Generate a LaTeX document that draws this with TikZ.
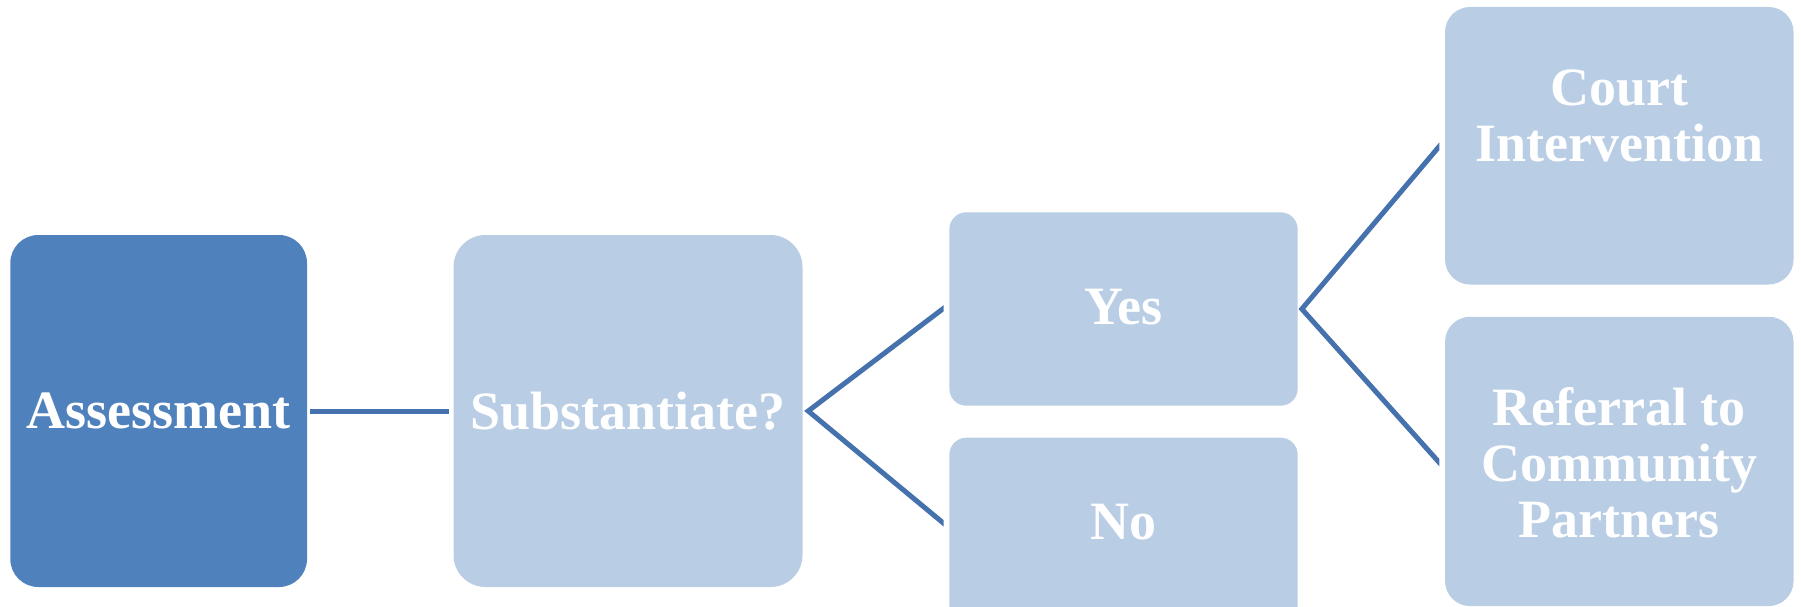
\documentclass[tikz,border=0pt]{standalone}
\usepackage{fontspec}
\setmainfont{Liberation Serif}
\usetikzlibrary{calc}
\definecolor{darkbox}{HTML}{4F81BD}
\definecolor{lightbox}{HTML}{B9CDE5}
\definecolor{linkc}{HTML}{4571AC}
\begin{document}
\begin{tikzpicture}[x=1pt,y=-1pt,
  box/.style={rectangle, draw=none, inner sep=0pt},
  boxtext/.style={text=white, font=\bfseries\fontsize{54}{56}\selectfont, align=center, inner sep=0pt},
  link/.style={draw=linkc, line width=5pt, line join=miter}]
\useasboundingbox (0,0) rectangle (1801,607);
\begin{scope}
\clip (0,0) rectangle (1801,607);
% boxes
\node[box, fill=darkbox, rounded corners=28pt, minimum width=296.7pt, minimum height=352pt] (ass) at (158.65,411) {};
\node[boxtext] (assT) at (ass.center) {Assessment};
\node[box, fill=lightbox, rounded corners=32pt, minimum width=349pt, minimum height=352pt] (sub) at (628,411) {};
\node[boxtext] (subT) at (sub.center) {Substantiate?};
\node[box, fill=lightbox, rounded corners=17pt, minimum width=348.3pt, minimum height=193.4pt] (yes) at (1123.5,309) {};
\node[boxtext] (yesT) at (1123.5,307.5) {Yes};
\node[box, fill=lightbox, rounded corners=17pt, minimum width=348.3pt, minimum height=193.4pt] (no) at (1123.5,534.4) {};
\node[boxtext] (noT) at (1123.5,522) {No};
\node[box, fill=lightbox, rounded corners=25pt, minimum width=348.5pt, minimum height=277.5pt] (court) at (1619.3,145.75) {};
\node[boxtext] (courtT) at (1619.3,116) {Court\\Intervention};
\node[box, fill=lightbox, rounded corners=25pt, minimum width=348.5pt, minimum height=289.3pt] (ref) at (1619.3,461.4) {};
\node[boxtext] (refT) at (1619.3,462.3) {Referral to\\Community\\Partners};
\end{scope}
% connectors
\draw[link] ([xshift=3pt]ass.east) -- ([xshift=-4.5pt]sub.west);
\coordinate (sA) at ([xshift=5.5pt]sub.east);
\coordinate (yE) at (943.6,308.3);
\coordinate (nE) at (943.6,523.3);
\begin{scope}
\clip (700,0) rectangle (943.6,607);
\draw[link] ($(sA)!1.1!(yE)$) -- (sA) -- ($(sA)!1.1!(nE)$);
\end{scope}
\coordinate (yA) at ([xshift=4pt]yes.east);
\coordinate (cE) at (1439.3,146.3);
\coordinate (rE) at (1439.3,462.6);
\begin{scope}
\clip (1200,0) rectangle (1439.3,607);
\draw[link] ($(yA)!1.1!(cE)$) -- (yA) -- ($(yA)!1.1!(rE)$);
\end{scope}
\end{tikzpicture}
\end{document}
